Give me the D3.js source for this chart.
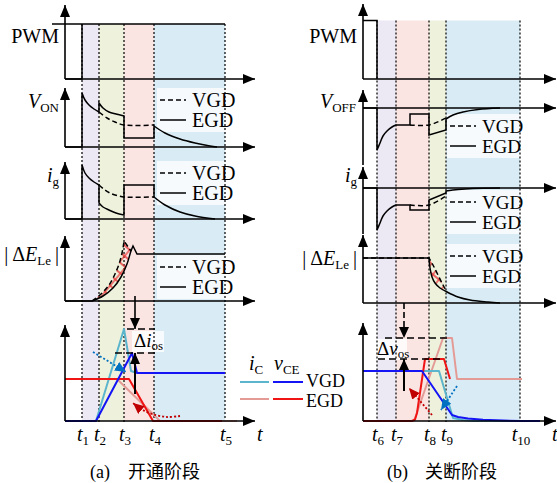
<!DOCTYPE html>
<html><head><meta charset="utf-8">
<script src="https://cdn.jsdelivr.net/npm/d3@7"></script>
<style>body{margin:0;background:#fff}svg{display:block}</style>
</head><body><svg id="c" width="557" height="483"></svg>
<script>
// ================= DATA =================
// time markers (arbitrary time units)
const tA = [17, 34, 59, 89, 160];
const tALabels = ["1", "2", "3", "4", "5"];
const tB = [14, 33, 66, 83, 157];
const tBLabels = ["6", "7", "8", "9", "10"];
const bandColorsA = ["#ece8f4", "#eef2dd", "#fae5e3", "#d9ecf5"];
const bandColorsB = ["#ece8f4", "#fae5e3", "#eef2dd", "#d9ecf5"];

// PWM
const pwmAHigh = [[-13, 55], [160, 55]];
const pwmAEdge = [[0, 0], [17, 0], [17, 55]];
const pwmB = [[0, 58.5], [14, 58.5], [14, 0]];

// V_ON (pieces joined by vertical steps)
const vonEGD = [
  [[0, 0], [17, 0]],
  [[17, 54], [20, 47], [24, 42], [29, 38], [34, 35]],
  [[34, 44], [38, 39], [44, 35], [51, 33], [59, 31]],
  [[59, 9], [89, 9]],
  [[89, 21], [100, 14], [115, 8], [130, 4], [145, 1], [152, 0]]
];
const vonVGD = [[[34, 35], [42, 29], [50, 25], [59, 22], [89, 22]]];

// i_g turn-on
const igAEGD = [
  [[0, 0], [17, 0]],
  [[17, 54], [20, 46], [24, 41], [29, 37], [34, 34]],
  [[34, 16], [38, 12], [44, 9], [51, 6], [59, 4]],
  [[59, 34], [89, 34]],
  [[89, 22], [100, 14], [115, 7], [130, 3], [150, 0]]
];
const igAVGD = [[[34, 34], [40, 29], [47, 25], [54, 23], [59, 22], [89, 22]]];

// |dE_Le| turn-on
const deAEGD = [
  [[0, 0], [27, 0]],
  [[27, 0], [38, 5], [48, 13], [56, 24], [62, 37], [66, 50], [68, 55]],
  [[68, 55], [72, 47]],
  [[72, 47], [160, 47]]
];
const deAVGD = [
  [[27, 0], [36, 7], [44, 16], [50, 27], [55, 40], [58, 53], [59, 60]],
  [[59, 60], [66, 50]]
];

// switching waveforms turn-on
const vceAVGD = [[0, 0], [31, 0], [67, 68], [72, 48], [160, 48]];
const icAVGD = [[31, 0], [59, 92], [66, 50], [72, 48]];
const vceAEGD = [[0, 42], [64, 42], [88, 0], [157, 0]];
const icAEGD = [[52, 42], [95, 0], [172, 0]];
const osALevels = [92, 68];          // overshoot levels
const blueDotA = [[28, 69], [61, 49]];
const redDotA = [[115, 5], [102, 4], [87, 7], [76, 12], [68, 18]];

// V_OFF
const voffEGD = [
  [[0, 0], [14, 0]],
  [[14, -42], [17, -35], [20, -28], [24, -23], [29, -19], [33, -17]],
  [[33, -17], [47, -17]],
  [[47, -6], [66, -6]],
  [[66, -27], [83, -22]],
  [[83, -11], [90, -7], [100, -4], [115, -1.5], [137, 0]]
];
const voffVGD = [[[47, -17], [66, -17], [83, -10]]];

// i_g turn-off
const igBEGD = [
  [[0, 0], [14, 0]],
  [[14, -42], [17, -35], [20, -28], [24, -23], [29, -19], [33, -17]],
  [[33, -17], [47, -17]],
  [[47, -22], [66, -22]],
  [[66, -12], [83, -5]],
  [[83, -3], [95, -1.5], [110, -0.5], [137, 0]]
];
const igBVGD = [[[47, -17], [66, -17], [83, -8]]];

// |dE_Le| turn-off
const deBEGD = [
  [[0, 45], [66, 45]],
  [[66, 45], [67, 35], [69, 26], [72, 20], [77, 15], [84, 11], [95, 6], [107, 3], [125, 1], [137, 0]]
];
const deBVGD = [
  [[0, 45], [66, 45]],
  [[66, 45], [70, 38], [75, 28], [80, 18], [84, 11]]
];

// switching waveforms turn-off
const vceBVGD = [[0, 50], [59, 50], [89, 6], [95, 4], [105, 2.5], [120, 1.2], [140, 0.4], [157, 0], [177, 0]];
const icBVGD = [[60, 50], [76, 50], [90, 3], [100, 1], [110, 0], [157, 0]];
const vceBEGD = [[0, 0], [49, 0], [52, 1.5], [54, 8], [62, 62], [81, 62], [87, 42]];
const icBEGD = [[51, 0], [80, 83], [89, 83], [94, 42], [159, 42]];
const osBLevels = [83, 62];
const redDotB = [[69, 6], [46, 33]];
const blueDotB = [[94, 35], [78, 11]];

// ================= DRAW =================
const svg = d3.select("#c");
const defs = svg.append("defs");
const SERIF = "'Liberation Serif','Times New Roman',serif";
const CJK = "'Noto Sans CJK SC',sans-serif";

function marker(id, color, w, h) {
  defs.append("marker").attr("id", id).attr("viewBox", `0 0 ${w} ${h}`)
    .attr("refX", w).attr("refY", h / 2).attr("markerWidth", w).attr("markerHeight", h)
    .attr("markerUnits", "userSpaceOnUse").attr("orient", "auto")
    .append("path").attr("d", `M0,0L${w},${h / 2}L0,${h}Z`).attr("fill", color);
}
marker("ax", "#000", 12, 10);
marker("blk", "#000", 11, 10);
marker("rd", "#c00000", 11, 10);
marker("bl", "#0070c0", 11, 10);

const pat = defs.append("pattern").attr("id", "hatch").attr("patternUnits", "userSpaceOnUse")
  .attr("width", 8).attr("height", 8).attr("patternTransform", "rotate(40)");
pat.append("path").attr("d", "M4,0V8M0,4H8").attr("stroke", "#e8383a").attr("stroke-width", 1.3);

const xA = d3.scaleLinear().domain([0, 190]).range([65, 255]);
const xB = d3.scaleLinear().domain([0, 193]).range([363, 556]);
const yS = base => d3.scaleLinear().domain([0, 100]).range([base, base - 100]);
const yPwmA = yS(79), yVon = yS(147), yIgA = yS(219), yDeA = yS(301), ySwA = yS(421);
const yPwmB = yS(79), yVoff = yS(108), yIgB = yS(188), yDeB = yS(303), ySwB = yS(421);

const lin = d3.line();
const smo = d3.line().curve(d3.curveCatmullRom.alpha(0.5));
function piecesPath(pieces, x, y) {
  return pieces.map((p, i) => {
    const px = p.map(d => [x(d[0]), y(d[1])]);
    const s = (px.length > 2 ? smo : lin)(px);
    return i ? "L" + s.slice(1) : s;
  }).join("");
}
function linPath(arr, x, y) { return lin(arr.map(d => [x(d[0]), y(d[1])])); }

const gBand = svg.append("g"), gBox = svg.append("g"), gDot = svg.append("g"),
      gCurve = svg.append("g"), gAxis = svg.append("g"), gText = svg.append("g");

// bands
function bands(t, colors, x, top) {
  colors.forEach((c, i) => {
    gBand.append("rect").attr("x", x(t[i])).attr("y", top)
      .attr("width", x(t[i + 1]) - x(t[i])).attr("height", 421 - top).attr("fill", c);
  });
  t.forEach(v => {
    gDot.append("line").attr("x1", x(v)).attr("x2", x(v)).attr("y1", top).attr("y2", 422)
      .attr("stroke", "#111").attr("stroke-width", 1.3).attr("stroke-dasharray", "2,2");
  });
}
bands(tA, bandColorsA, xA, yPwmA(55));
bands(tB, bandColorsB, xB, yPwmB(58.5));

// axes
function hAxis(x, y, d1) {
  gAxis.append("line").attr("x1", x(0)).attr("x2", x(d1)).attr("y1", y(0)).attr("y2", y(0))
    .attr("stroke", "#000").attr("stroke-width", 1.6).attr("marker-end", "url(#ax)");
}
function vAxis(xp, yb, yt) {
  gAxis.append("line").attr("x1", xp).attr("x2", xp).attr("y1", yb).attr("y2", yt)
    .attr("stroke", "#000").attr("stroke-width", 1.6).attr("marker-end", "url(#ax)");
}
[yPwmA, yVon, yIgA, yDeA, ySwA].forEach(y => hAxis(xA, y, 190));
[yPwmB, yVoff, yIgB, yDeB, ySwB].forEach(y => hAxis(xB, y, 193));
vAxis(xA(0), 79, 5); vAxis(xA(0), 147, 88); vAxis(xA(0), 219, 162); vAxis(xA(0), 301, 236); vAxis(xA(0), 421, 325);
vAxis(xB(0), 79, 4); vAxis(xB(0), 165, 90); vAxis(xB(0), 234, 167); vAxis(xB(0), 303, 235); vAxis(xB(0), 421, 323);

// black curves
function blk(d, dashed) {
  gCurve.append("path").attr("d", d).attr("fill", "none").attr("stroke", "#000")
    .attr("stroke-width", 1.5).attr("stroke-dasharray", dashed ? "5,3" : null);
}
blk(linPath(pwmAHigh, xA, yPwmA)); blk(linPath(pwmAEdge, xA, yPwmA));
blk(linPath(pwmB, xB, yPwmB));
blk(piecesPath(vonEGD, xA, yVon)); blk(piecesPath(vonVGD, xA, yVon), true);
blk(piecesPath(igAEGD, xA, yIgA)); blk(piecesPath(igAVGD, xA, yIgA), true);
blk(piecesPath(voffEGD, xB, yVoff)); blk(piecesPath(voffVGD, xB, yVoff), true);
blk(piecesPath(igBEGD, xB, yIgB)); blk(piecesPath(igBVGD, xB, yIgB), true);

// hatched leaf regions
function leaf(dashedPts, solidPts, x, y) {
  const a = smo(dashedPts.map(d => [x(d[0]), y(d[1])]));
  const b = smo(solidPts.slice().reverse().map(d => [x(d[0]), y(d[1])]));
  gCurve.append("path").attr("d", a + "L" + b.slice(1) + "Z").attr("fill", "url(#hatch)").attr("stroke", "none");
}
leaf(deAVGD[0].concat(deAVGD[1].slice(1)), deAEGD[1].slice(0, 6), xA, yDeA);
leaf(deBVGD[1], deBEGD[1].slice(0, 6), xB, yDeB);
blk(piecesPath(deAEGD, xA, yDeA)); blk(piecesPath(deAVGD, xA, yDeA), true);
blk(piecesPath(deBEGD, xB, yDeB)); blk(piecesPath(deBVGD, xB, yDeB), true);

// colored switching waveforms
const C = { vgdV: "#1414f5", vgdI: "#5bb5cc", egdV: "#f01414", egdI: "#e49b96" };
function col(arr, x, y, c) {
  gCurve.append("path").attr("d", linPath(arr, x, y)).attr("fill", "none")
    .attr("stroke", c).attr("stroke-width", 2).attr("stroke-linejoin", "round");
}
col(icAEGD, xA, ySwA, C.egdI); col(icAVGD, xA, ySwA, C.vgdI);
col(vceAEGD, xA, ySwA, C.egdV); col(vceAVGD, xA, ySwA, C.vgdV);
col(icBEGD, xB, ySwB, C.egdI); col(icBVGD, xB, ySwB, C.vgdI);
col(vceBEGD, xB, ySwB, C.egdV); col(vceBVGD, xB, ySwB, C.vgdV);

// dotted trend arrows
function dotArrow(arr, x, y, c, m) {
  gCurve.append("path").attr("d", smo(arr.map(d => [x(d[0]), y(d[1])]))).attr("fill", "none")
    .attr("stroke", c).attr("stroke-width", 1.8).attr("stroke-dasharray", "2,2").attr("marker-end", `url(#${m})`);
}
dotArrow(blueDotA, xA, ySwA, "#0070c0", "bl");
dotArrow(redDotA, xA, ySwA, "#c00000", "rd");
dotArrow(redDotB, xB, ySwB, "#c00000", "rd");
dotArrow(blueDotB, xB, ySwB, "#0070c0", "bl");

// overshoot annotations
function overshoot(levels, x, y, ax, topFrom, botFrom, topSpan, botSpan, topDashed) {
  gCurve.append("line").attr("x1", x(topSpan[0])).attr("x2", x(topSpan[1])).attr("y1", y(levels[0])).attr("y2", y(levels[0]))
    .attr("stroke", "#000").attr("stroke-width", 1.5).attr("stroke-dasharray", "7,4");
  gCurve.append("line").attr("x1", x(botSpan[0])).attr("x2", x(botSpan[1])).attr("y1", y(levels[1])).attr("y2", y(levels[1]))
    .attr("stroke", "#000").attr("stroke-width", 1.5).attr("stroke-dasharray", "7,4");
  gCurve.append("line").attr("x1", x(ax)).attr("x2", x(ax)).attr("y1", y(topFrom)).attr("y2", y(levels[0]))
    .attr("stroke", "#000").attr("stroke-width", 1.6).attr("stroke-dasharray", topDashed ? "6,3" : null).attr("marker-end", "url(#blk)");
  gCurve.append("line").attr("x1", x(ax)).attr("x2", x(ax)).attr("y1", y(botFrom)).attr("y2", y(levels[1]))
    .attr("stroke", "#000").attr("stroke-width", 2).attr("marker-end", "url(#blk)");
}
overshoot(osALevels, xA, ySwA, 70, 125, 27, [62, 90], [50, 90], false);
overshoot(osBLevels, xB, ySwB, 41, 118, 30, [22, 84], [15, 80], true);

// legend boxes
function legend(x0, y1, y2, fs) {
  gBox.append("rect").attr("x", x0 - 3).attr("y", y1 - 12).attr("width", 80).attr("height", y2 - y1 + 24)
    .attr("fill", "#fff").attr("opacity", 0.75);
  gText.append("line").attr("x1", x0).attr("x2", x0 + 26).attr("y1", y1).attr("y2", y1)
    .attr("stroke", "#000").attr("stroke-width", 1.5).attr("stroke-dasharray", "5,3");
  gText.append("line").attr("x1", x0).attr("x2", x0 + 26).attr("y1", y2).attr("y2", y2)
    .attr("stroke", "#000").attr("stroke-width", 1.5);
  gText.append("text").attr("x", x0 + 32).attr("y", y1 + 7).attr("font-size", fs).text("VGD");
  gText.append("text").attr("x", x0 + 32).attr("y", y2 + 7).attr("font-size", fs).text("EGD");
}
gText.attr("font-family", SERIF).attr("font-size", 20).attr("fill", "#000");
legend(160, 100, 120, 20); legend(160, 173, 193, 20); legend(160, 267, 287, 20);
legend(450, 126, 146, 19); legend(450, 202, 222, 19); legend(450, 256, 276, 19);

// axis labels
function label(xp, yp, parts) {
  const t = gText.append("text").attr("x", xp).attr("y", yp).attr("text-anchor", "end");
  parts.forEach(p => {
    const s = t.append("tspan").text(p.t);
    if (p.i) s.attr("font-style", "italic");
    if (p.sub) s.attr("font-size", 13).attr("dy", 4);
    if (p.up) s.attr("dy", -4);
  });
}
label(59, 43, [{ t: "PWM" }]);
label(357, 43, [{ t: "PWM" }]);
label(59, 108, [{ t: "V", i: 1 }, { t: "ON", sub: 1 }]);
label(356, 108, [{ t: "V", i: 1 }, { t: "OFF", sub: 1 }]);
label(59, 182, [{ t: "i", i: 1 }, { t: "g", sub: 1 }]);
label(357, 182, [{ t: "i", i: 1 }, { t: "g", sub: 1 }]);
label(59, 261, [{ t: "|\u2009Δ" }, { t: "E", i: 1 }, { t: "Le", sub: 1 }, { t: "\u2009|", up: 1 }]);
label(357, 265, [{ t: "|\u2009Δ" }, { t: "E", i: 1 }, { t: "Le", sub: 1 }, { t: "\u2009|", up: 1 }]);

// time labels
function tLabels(t, labs, x) {
  t.forEach((v, i) => {
    const tx = gText.append("text").attr("x", x(v) + 1).attr("y", 441).attr("text-anchor", "middle");
    tx.append("tspan").attr("font-style", "italic").text("t");
    tx.append("tspan").attr("font-size", 13).attr("dy", 4).text(labs[i]);
  });
}
tLabels(tA, tALabels, xA); tLabels(tB, tBLabels, xB);
gText.append("text").attr("x", 257).attr("y", 441).attr("font-style", "italic").text("t");
gText.append("text").attr("x", 552).attr("y", 441).attr("font-style", "italic").text("t");

// overshoot labels
function osLabel(xp, yp, v) {
  gBox.append("rect").attr("x", xp - 2).attr("y", yp - 16).attr("width", 32).attr("height", 21).attr("fill", "#fff").attr("opacity", 0.8);
  const t = gText.append("text").attr("x", xp).attr("y", yp).attr("font-size", 19);
  t.append("tspan").text("Δ");
  t.append("tspan").attr("font-style", "italic").text(v);
  t.append("tspan").attr("font-size", 13).attr("dy", 3).text("os");
}
osLabel(xA(69), ySwA(74), "i");
osLabel(xB(14), ySwB(66), "v");

// middle legend
const ml = gText.append("g");
const lt1 = ml.append("text").attr("x", 249).attr("y", 370);
lt1.append("tspan").attr("font-style", "italic").text("i");
lt1.append("tspan").attr("font-size", 13).attr("dy", 4).text("C");
const lt2 = ml.append("text").attr("x", 274).attr("y", 370);
lt2.append("tspan").attr("font-style", "italic").text("v");
lt2.append("tspan").attr("font-size", 13).attr("dy", 4).text("CE");
[[240, 269, 382, C.vgdI], [273, 303, 382, C.vgdV], [240, 269, 399, C.egdI], [273, 303, 399, C.egdV]].forEach(s => {
  ml.append("line").attr("x1", s[0]).attr("x2", s[1]).attr("y1", s[2]).attr("y2", s[2]).attr("stroke", s[3]).attr("stroke-width", 2);
});
ml.append("text").attr("x", 306).attr("y", 387).attr("font-size", 18).text("VGD");
ml.append("text").attr("x", 306).attr("y", 407).attr("font-size", 18).text("EGD");

// captions
gText.append("text").attr("x", 90).attr("y", 478).attr("font-size", 18).text("(a)");
gText.append("text").attr("x", 128).attr("y", 478).attr("font-size", 18).attr("font-family", CJK).text("开通阶段");
gText.append("text").attr("x", 387).attr("y", 478).attr("font-size", 18).text("(b)");
gText.append("text").attr("x", 425).attr("y", 478).attr("font-size", 18).attr("font-family", CJK).text("关断阶段");
</script></body></html>
